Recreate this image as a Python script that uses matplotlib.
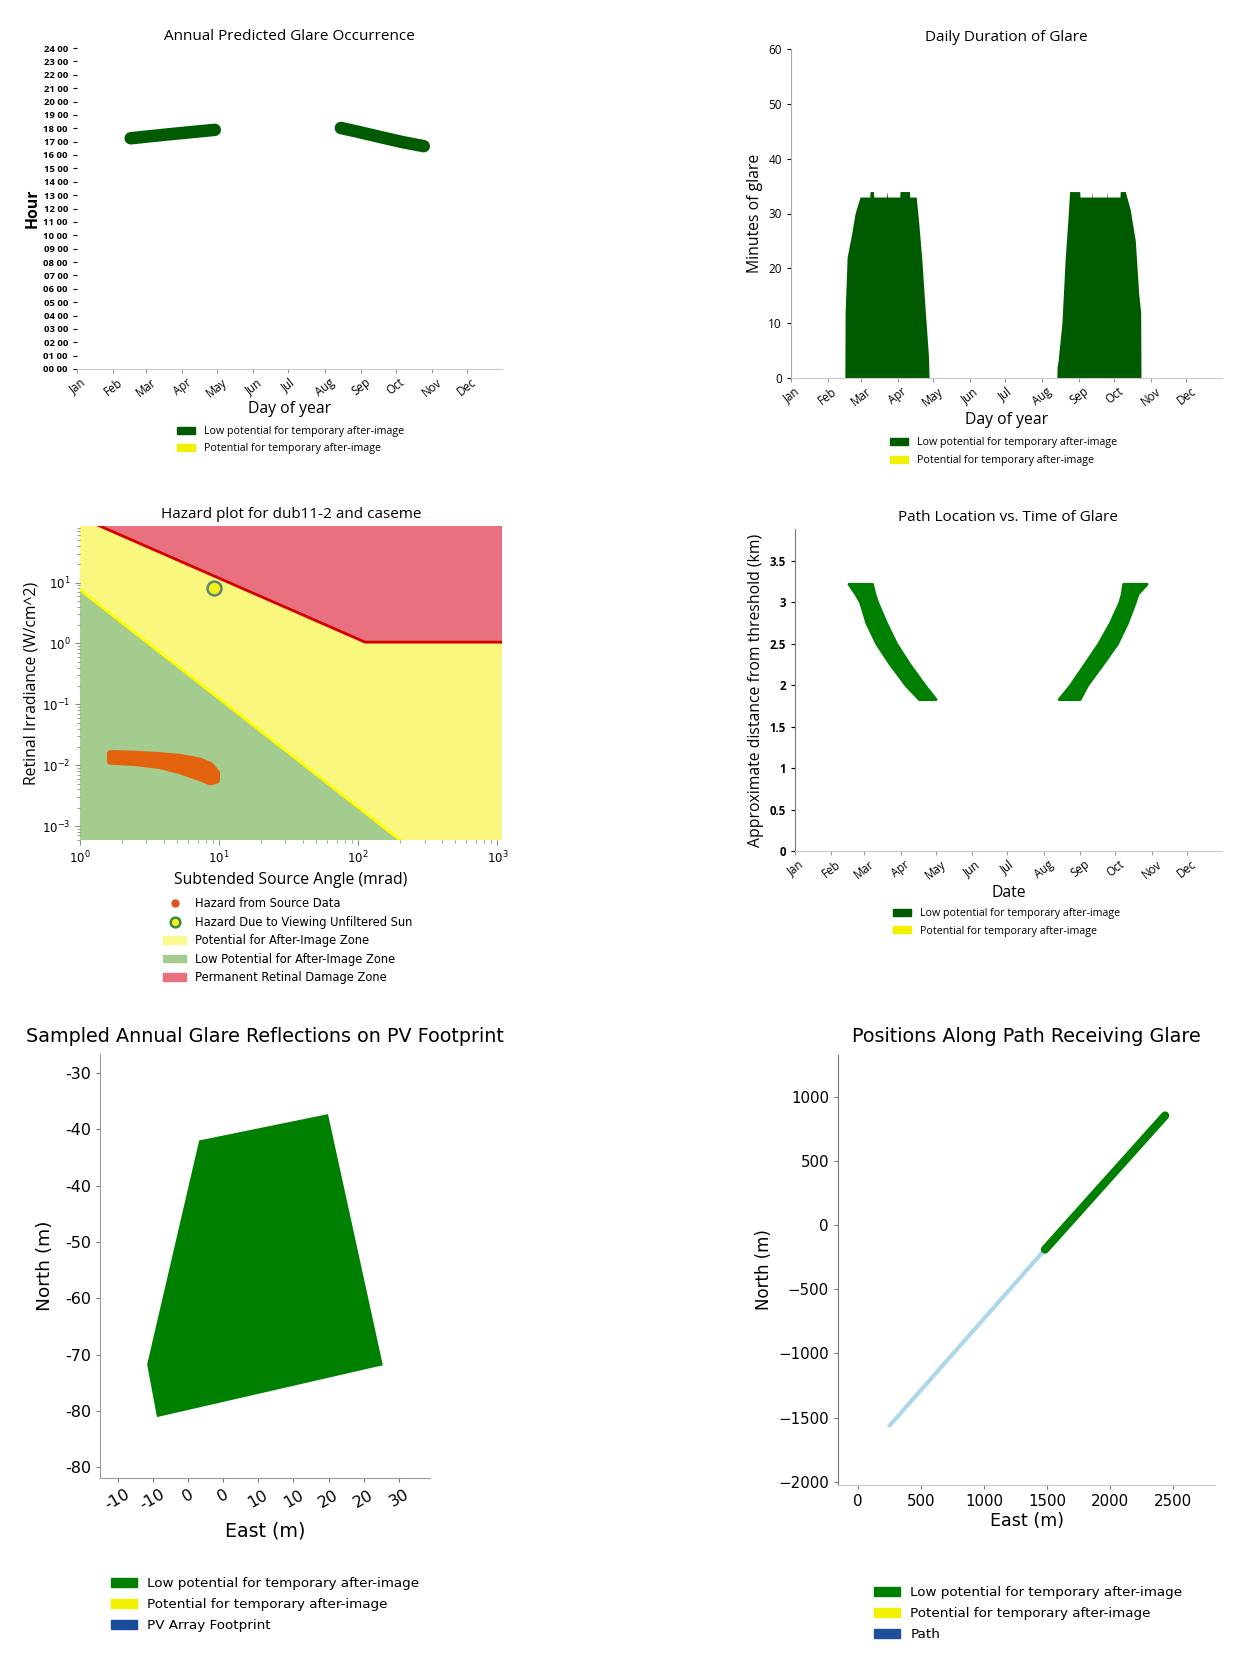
import matplotlib
matplotlib.use("Agg")
import matplotlib.pyplot as plt
from matplotlib.patches import Patch
from matplotlib.lines import Line2D
from matplotlib.ticker import FuncFormatter, MultipleLocator

# ---------------- data ----------------
month_days = [1, 32, 60, 91, 121, 152, 182, 213, 244, 274, 305, 335]
month_names = ['Jan', 'Feb', 'Mar', 'Apr', 'May', 'Jun',
               'Jul', 'Aug', 'Sep', 'Oct', 'Nov', 'Dec']
hour_labels = ['%02d 00' % h for h in range(25)]

# annual glare occurrence: mid time of glare (hours) on sampled days
spring_days = [47, 60, 80, 100, 119]
spring_hours = [17.25, 17.37, 17.55, 17.72, 17.88]
autumn_days = [227, 240, 260, 280, 298]
autumn_hours = [18.02, 17.77, 17.36, 16.96, 16.66]

# daily duration of glare (minutes)
dur_days_a = [46.5, 46.7, 48.4, 52.3, 55.1, 59.3, 67.5, 67.8, 70.6, 70.9, 81.5, 81.9,
              82.5, 92.8, 93.1, 101.0, 101.3, 106.7, 108.6, 111.5, 114.3, 117.1, 117.6]
dur_min_a = [0, 12, 22, 26.4, 30, 33, 33, 34, 34, 33, 33, 34,
             33, 33, 34, 34, 33, 33, 29, 21.6, 12.5, 4, 0]
dur_days_b = [225.5, 225.7, 226.5, 229.8, 232.6, 234.9, 236.3, 244.8, 245.1, 254.9, 255.2,
              255.6, 267.6, 267.9, 268.3, 278.8, 279.1, 283.3, 287.5, 291.8, 294.6, 296.3, 296.6]
dur_min_b = [0, 2, 3, 10, 21.9, 29, 34, 34, 33, 33, 34,
             33, 33, 34, 33, 33, 34, 34, 30.7, 25, 15.5, 12, 0]

# hazard plot
damage_angle = [1, 112, 1100]
damage_irr = [118, 1.05, 1.05]
afterimage_angle = [1, 540]
afterimage_irr = [7.6, 1e-4]
source_angle = [1.64, 2.42, 3.76, 5.24, 7.3, 8.6, 9.5]
source_irr_hi = [0.0158, 0.0155, 0.0146, 0.0137, 0.0118, 0.0100, 0.0076]
source_irr_lo = [0.0118, 0.0113, 0.0100, 0.0082, 0.0063, 0.0054, 0.0058]
sun_angle = [9.25]
sun_irr = [8.1]

# path location vs time of glare (km from threshold)
path_dist = [3.22, 3.1, 3.0, 2.75, 2.5, 2.25, 2.0, 1.83]
band1_lo = [46.6, 52.4, 56.5, 61.8, 70.3, 82.0, 95.2, 106.6]
band1_hi = [66.6, 68.7, 71.0, 78.6, 87.2, 98.6, 111.4, 120.9]
band2_lo = [280.7, 279.5, 277.5, 269.5, 259.5, 247.5, 235.5, 225.7]
band2_hi = [300.8, 293.0, 290.7, 284.0, 275.5, 263.0, 250.0, 243.6]

# PV footprint (m)
pv_east = [-0.9, 17.4, 25.2, -6.9, -8.3]
pv_north = [-39.0, -35.5, -68.9, -75.8, -68.8]

# path positions (m)
path_east = [256, 1484]
path_north = [-1560, -190]
glare_east = [1484, 2435]
glare_north = [-190, 854]

# ---------------- layout ----------------
W, H = 1247, 1666
fig = plt.figure(figsize=(W / 100, H / 100), dpi=100)
top_font = 'Open Sans'
DG = '#005a00'
G = '#008000'
GRAY = '#c8c8c8'


def box(l, t, r, b):
    return [l / W, 1 - b / H, (r - l) / W, (b - t) / H]


def legend_at(handles, labels, x, y, fs, hl, sp, family, hp=0.8):
    fig.legend(handles, labels, loc='upper left', bbox_to_anchor=(x / W, 1 - y / H),
               frameon=False, handlelength=hl, handleheight=0.6,
               labelspacing=sp, borderpad=0, borderaxespad=0, handletextpad=hp,
               prop={'family': family, 'size': fs})


def month_axis(ax):
    ax.set_xlim(1, 365)
    ax.set_xticks(month_days)
    ax.set_xticklabels(month_names, rotation=38, fontsize=8.3, family=top_font)
    for s in ['top', 'right']:
        ax.spines[s].set_visible(False)
    ax.spines['bottom'].set_color(GRAY)
    ax.tick_params(axis='x', color='#999999', length=3, pad=2)


LAB = 11.3
TTL = 11

# Panel 1: annual predicted glare occurrence
ax1 = fig.add_axes(box(77, 48, 502, 369))
ax1.plot(spring_days, spring_hours, color=DG, lw=9, solid_capstyle='round')
ax1.plot(autumn_days, autumn_hours, color=DG, lw=9, solid_capstyle='round')
month_axis(ax1)
ax1.set_ylim(0, 24)
ax1.set_yticks(range(25))
ax1.set_yticklabels(hour_labels, fontsize=6.8, family=top_font, fontweight='bold')
ax1.spines['left'].set_visible(False)
ax1.tick_params(axis='y', length=3)
ax1.set_title('Annual Predicted Glare Occurrence', fontsize=TTL, family=top_font, pad=6)
ax1.set_ylabel('Hour', fontsize=LAB, family=top_font, fontweight='bold', labelpad=2)
ax1.set_xlabel('Day of year', fontsize=LAB, family=top_font, labelpad=1)
legend_at([Patch(color=DG), Patch(color='#f0f000')],
          ['Low potential for temporary after-image', 'Potential for temporary after-image'],
          177, 426, 7.7, 1.7, 0.6, top_font)

# Panel 2: daily duration of glare
ax2 = fig.add_axes(box(791, 49, 1222, 378))
ax2.fill_between(dur_days_a, dur_min_a, color=DG, lw=0)
ax2.fill_between(dur_days_b, dur_min_b, color=DG, lw=0)
month_axis(ax2)
ax2.set_ylim(0, 60)
ax2.set_yticks(range(0, 61, 10))
ax2.tick_params(axis='y', labelsize=8.5, length=3)
for t in ax2.get_yticklabels():
    t.set_family(top_font)
ax2.spines['left'].set_color('#aaaaaa')
ax2.set_title('Daily Duration of Glare', fontsize=TTL, family=top_font, pad=6)
ax2.set_ylabel('Minutes of glare', fontsize=LAB, family=top_font, labelpad=4)
ax2.set_xlabel('Day of year', fontsize=LAB, family=top_font, labelpad=2)
legend_at([Patch(color=DG), Patch(color='#f0f000')],
          ['Low potential for temporary after-image', 'Potential for temporary after-image'],
          890, 437, 7.7, 1.7, 0.68, top_font)

# Panel 3: hazard plot
ax3 = fig.add_axes(box(80, 526, 502, 840))
ax3.set_xscale('log')
ax3.set_yscale('log')
ax3.set_xlim(1, 1080)
ax3.set_ylim(5.9e-4, 85)
ax3.set_facecolor('#faf77e')
ax3.fill(damage_angle + [damage_angle[-1], damage_angle[0]],
         damage_irr + [1e4, 1e4], color='#e8707f', lw=0)
ax3.fill(afterimage_angle + [afterimage_angle[0]],
         afterimage_irr + [afterimage_irr[-1]], color='#a4cc8e', lw=0)
ax3.plot(damage_angle, damage_irr, color='#d40000', lw=2)
ax3.plot(afterimage_angle, afterimage_irr, color='#ffff00', lw=2)
ax3.fill_between(source_angle, source_irr_lo, source_irr_hi, color='#e2620e',
                 edgecolor='#e2620e', lw=5, joinstyle='round', capstyle='round')
ax3.scatter(sun_angle, sun_irr, s=100, facecolor='#f4f020', edgecolor='#5a8a6a', lw=1.8, zorder=5)
for s in ax3.spines.values():
    s.set_visible(False)
ax3.tick_params(which='both', labelsize=8.5, color='#888888')
ax3.set_title('Hazard plot for dub11-2 and caseme', fontsize=TTL, family=top_font, pad=6)
ax3.set_ylabel('Retinal Irradiance (W/cm^2)', fontsize=LAB, family=top_font, labelpad=2)
ax3.set_xlabel('Subtended Source Angle (mrad)', fontsize=LAB, family=top_font, labelpad=4)
legend_at([Line2D([], [], ls='', marker='o', color='#d9531e', ms=5),
           Line2D([], [], ls='', marker='o', mfc='#f4f020', mec='#3f8a3f', mew=1.8, ms=7),
           Patch(color='#fafa90'), Patch(color='#a4cc8e'), Patch(color='#e8707f')],
          ['Hazard from Source Data', 'Hazard Due to Viewing Unfiltered Sun',
           'Potential for After-Image Zone', 'Low Potential for After-Image Zone',
           'Permanent Retinal Damage Zone'],
          163, 897, 8.3, 2.0, 0.48, 'DejaVu Sans')

# Panel 4: path location vs time of glare
ax4 = fig.add_axes(box(795, 529, 1222, 851))
ax4.fill_betweenx(path_dist, band1_lo, band1_hi, color=G, lw=2, edgecolor=G)
ax4.fill_betweenx(path_dist, band2_lo, band2_hi, color=G, lw=2, edgecolor=G)
month_axis(ax4)
ax4.set_ylim(0, 3.88)
ax4.set_yticks([0, 0.5, 1, 1.5, 2, 2.5, 3, 3.5])
ax4.yaxis.set_major_formatter(FuncFormatter(lambda v, p: '%g' % v))
ax4.tick_params(axis='y', labelsize=8.3, length=3)
for t in ax4.get_yticklabels():
    t.set_family(top_font)
    t.set_fontweight('bold')
ax4.spines['left'].set_color('#777777')
ax4.set_title('Path Location vs. Time of Glare', fontsize=TTL, family=top_font, pad=6)
ax4.set_ylabel('Approximate distance from threshold (km)', fontsize=LAB, family=top_font, labelpad=4)
ax4.set_xlabel('Date', fontsize=LAB, family=top_font, labelpad=2)
legend_at([Patch(color=DG), Patch(color='#f0f000')],
          ['Low potential for temporary after-image', 'Potential for temporary after-image'],
          893, 908, 7.7, 1.7, 0.62, top_font)

# Panel 5: PV footprint
ax5 = fig.add_axes(box(100, 1054, 430, 1478))
ax5.fill(pv_east, pv_north, color=G, lw=0)
ax5.set_xlim(-15, 31.9)
ax5.set_ylim(-83.9, -27.5)
ax5.xaxis.set_major_locator(MultipleLocator(5, offset=2.5))
ax5.yaxis.set_major_locator(MultipleLocator(7.5))
rounded = FuncFormatter(lambda v, p: '%d' % (round(v / 10) * 10))
ax5.xaxis.set_major_formatter(rounded)
ax5.yaxis.set_major_formatter(rounded)
for s in ['top', 'right']:
    ax5.spines[s].set_visible(False)
ax5.spines['left'].set_color('#999999')
ax5.spines['bottom'].set_color('#999999')
ax5.tick_params(labelsize=11.5, length=3, color='#777777')
plt.setp(ax5.get_xticklabels(), rotation=30)
ax5.set_title('Sampled Annual Glare Reflections on PV Footprint', fontsize=13.8, pad=9)
ax5.set_ylabel('North (m)', fontsize=13.3, labelpad=8)
ax5.set_xlabel('East (m)', fontsize=13.7, labelpad=6)
legend_at([Patch(color=G), Patch(color='#f0f000'), Patch(color='#1a4a9a')],
          ['Low potential for temporary after-image', 'Potential for temporary after-image',
           'PV Array Footprint'],
          111, 1577, 9.7, 1.9, 0.6, 'DejaVu Sans')

# Panel 6: positions along path
ax6 = fig.add_axes(box(838, 1055, 1215, 1485))
ax6.plot(path_east, path_north, color='#add8ea', lw=3)
ax6.plot(glare_east, glare_north, color=G, lw=6, solid_capstyle='round')
ax6.set_xlim(-155, 2830)
ax6.set_ylim(-2026, 1326)
for s in ['top', 'right']:
    ax6.spines[s].set_visible(False)
ax6.spines['left'].set_color('#777777')
ax6.spines['bottom'].set_color(GRAY)
ax6.tick_params(labelsize=10.8, length=3, color='#777777')
ax6.set_title('Positions Along Path Receiving Glare', fontsize=13.8, pad=9)
ax6.set_ylabel('North (m)', fontsize=12, labelpad=4)
ax6.set_xlabel('East (m)', fontsize=12.6, labelpad=2)
legend_at([Patch(color=G), Patch(color='#f0f000'), Patch(color='#1f4e9a')],
          ['Low potential for temporary after-image', 'Potential for temporary after-image',
           'Path'],
          874, 1586, 9.7, 1.9, 0.6, 'DejaVu Sans')

plt.savefig('out.png', dpi=100)
